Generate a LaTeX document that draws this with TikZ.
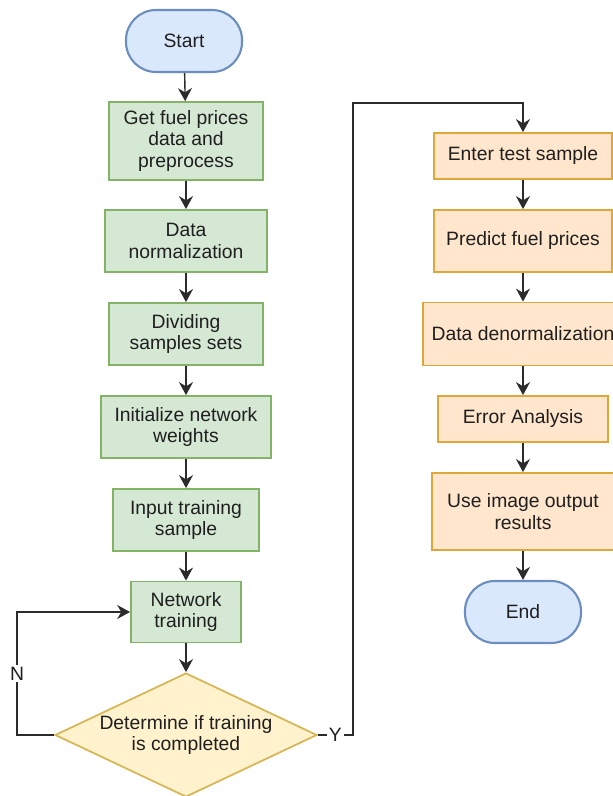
\documentclass[tikz,border=0pt]{standalone}
\usepackage{fontspec}
\setmainfont{Liberation Sans}
\usepackage{xcolor}
\usepackage{tikz}
\usetikzlibrary{shapes.geometric,arrows.meta}
\definecolor{FPBlue}{HTML}{DAE8FC}
\definecolor{FPBlueLine}{HTML}{6C8EBF}
\definecolor{FPGreen}{HTML}{D5E8D4}
\definecolor{FPGreenLine}{HTML}{82B366}
\definecolor{FPOrange}{HTML}{FFE6CC}
\definecolor{FPOrangeLine}{HTML}{DDA73A}
\definecolor{FPYellow}{HTML}{FFF2CC}
\definecolor{FPYellowLine}{HTML}{D6B656}
\definecolor{FPText}{HTML}{1F1F1F}
\definecolor{FPArrow}{HTML}{2B2B2B}

\tikzset{
  box/.style={draw, line width=1pt, align=center, inner sep=0pt, text=FPText,
    font=\fontsize{11}{12.4}\selectfont},
  terminal/.style={box, fill=FPBlue, draw=FPBlueLine, line width=1.2pt,
    rounded corners=0.6cm, minimum width=2.32cm, minimum height=1.24cm},
  trainbox/.style={box, fill=FPGreen, draw=FPGreenLine},
  testbox/.style={box, fill=FPOrange, draw=FPOrangeLine},
  decide/.style={shape=diamond, draw=FPYellowLine, fill=FPYellow, line width=1pt,
    inner sep=0pt, minimum width=5.24cm, minimum height=2.48cm},
  flow/.style={draw=FPArrow, line width=0.8pt, -{Stealth[length=2.6mm,width=2.8mm]}},
  yn/.style={fill=white, inner sep=1pt, text=FPText, font=\fontsize{11}{12.4}\selectfont}
}

\begin{document}
\begin{tikzpicture}[x=1cm,y=1cm]
\path[use as bounding box] (0,0) rectangle (12.26,15.92);
% training side
\node[terminal] (start) at (3.68,15.10) {Start};
\node[trainbox, minimum width=3.08cm, minimum height=1.56cm] (getdata) at (3.72,13.10) {Get fuel prices\\data and\\preprocess};
\node[trainbox, minimum width=3.24cm, minimum height=1.24cm] (norm) at (3.72,11.10) {Data\\normalization};
\node[trainbox, minimum width=3.08cm, minimum height=1.24cm] (split) at (3.72,9.24) {Dividing\\samples sets};
\node[trainbox, minimum width=3.40cm, minimum height=1.24cm] (initw) at (3.72,7.38) {Initialize network\\weights};
\node[trainbox, minimum width=2.92cm, minimum height=1.24cm] (input) at (3.72,5.52) {Input training\\sample};
\node[trainbox, minimum width=2.20cm, minimum height=1.22cm] (train) at (3.72,3.68) {Network\\training};
\node[decide] (check) at (3.72,1.22) {};
\node[box, draw=none] (checktext) at (check) {Determine if training\\is completed};
% test side
\node[testbox, minimum width=3.56cm, minimum height=0.92cm] (test) at (10.46,12.80) {Enter test sample};
\node[testbox, minimum width=3.56cm, minimum height=1.24cm] (predict) at (10.46,11.10) {Predict fuel prices};
\node[testbox, minimum width=4.00cm, minimum height=1.26cm] (denorm) at (10.46,9.24) {Data denormalization};
\node[testbox, minimum width=3.40cm, minimum height=0.92cm] (error) at (10.46,7.54) {Error Analysis};
\node[testbox, minimum width=3.64cm, minimum height=1.54cm] (output) at (10.46,5.69) {Use image output\\results};
\node[terminal] (end) at (10.46,3.68) {End};
% bends of the loops
\coordinate (nbend) at (0.34,3.68);
\coordinate (ybend) at (7.06,13.86);
% connectors
\draw[flow] (start) -- (getdata);
\draw[flow] (getdata) -- (norm);
\draw[flow] (norm) -- (split);
\draw[flow] (split) -- (initw);
\draw[flow] (initw) -- (input);
\draw[flow] (input) -- (train);
\draw[flow] (train) -- (check);
\draw[flow] (check.west) -| node[yn, pos=0.75] {N} (nbend) -- (train.west);
\draw[flow] (check.east) -| node[yn, pos=0.25] {Y} (ybend) -| (test.north);
\draw[flow] (test) -- (predict);
\draw[flow] (predict) -- (denorm);
\draw[flow] (denorm) -- (error);
\draw[flow] (error) -- (output);
\draw[flow] (output) -- (end);
\end{tikzpicture}
\end{document}
